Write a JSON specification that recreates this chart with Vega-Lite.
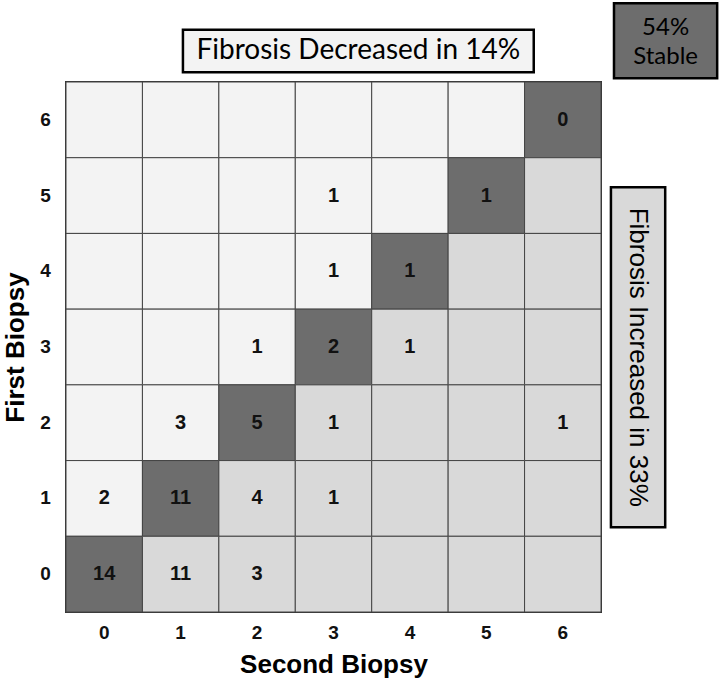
{
  "$schema": "https://vega.github.io/schema/vega-lite/v6.json",
  "autosize": {"type": "none"},
  "padding": {"left": 66, "top": 82, "right": 119, "bottom": 68},
  "width": 535,
  "height": 530,
  "background": "white",
  "view": {"stroke": "#333333", "strokeWidth": 2},
  "config": {"font": "Liberation Sans"},
  "resolve": {"scale": {"x": "independent", "y": "independent", "color": "independent"}},
  "layer": [
    {
      "data": {"values": [
        {"second": 0, "first": 6, "change": "Decreased", "count": null},
        {"second": 1, "first": 6, "change": "Decreased", "count": null},
        {"second": 2, "first": 6, "change": "Decreased", "count": null},
        {"second": 3, "first": 6, "change": "Decreased", "count": null},
        {"second": 4, "first": 6, "change": "Decreased", "count": null},
        {"second": 5, "first": 6, "change": "Decreased", "count": null},
        {"second": 6, "first": 6, "change": "Stable", "count": 0},
        {"second": 0, "first": 5, "change": "Decreased", "count": null},
        {"second": 1, "first": 5, "change": "Decreased", "count": null},
        {"second": 2, "first": 5, "change": "Decreased", "count": null},
        {"second": 3, "first": 5, "change": "Decreased", "count": 1},
        {"second": 4, "first": 5, "change": "Decreased", "count": null},
        {"second": 5, "first": 5, "change": "Stable", "count": 1},
        {"second": 6, "first": 5, "change": "Increased", "count": null},
        {"second": 0, "first": 4, "change": "Decreased", "count": null},
        {"second": 1, "first": 4, "change": "Decreased", "count": null},
        {"second": 2, "first": 4, "change": "Decreased", "count": null},
        {"second": 3, "first": 4, "change": "Decreased", "count": 1},
        {"second": 4, "first": 4, "change": "Stable", "count": 1},
        {"second": 5, "first": 4, "change": "Increased", "count": null},
        {"second": 6, "first": 4, "change": "Increased", "count": null},
        {"second": 0, "first": 3, "change": "Decreased", "count": null},
        {"second": 1, "first": 3, "change": "Decreased", "count": null},
        {"second": 2, "first": 3, "change": "Decreased", "count": 1},
        {"second": 3, "first": 3, "change": "Stable", "count": 2},
        {"second": 4, "first": 3, "change": "Increased", "count": 1},
        {"second": 5, "first": 3, "change": "Increased", "count": null},
        {"second": 6, "first": 3, "change": "Increased", "count": null},
        {"second": 0, "first": 2, "change": "Decreased", "count": null},
        {"second": 1, "first": 2, "change": "Decreased", "count": 3},
        {"second": 2, "first": 2, "change": "Stable", "count": 5},
        {"second": 3, "first": 2, "change": "Increased", "count": 1},
        {"second": 4, "first": 2, "change": "Increased", "count": null},
        {"second": 5, "first": 2, "change": "Increased", "count": null},
        {"second": 6, "first": 2, "change": "Increased", "count": 1},
        {"second": 0, "first": 1, "change": "Decreased", "count": 2},
        {"second": 1, "first": 1, "change": "Stable", "count": 11},
        {"second": 2, "first": 1, "change": "Increased", "count": 4},
        {"second": 3, "first": 1, "change": "Increased", "count": 1},
        {"second": 4, "first": 1, "change": "Increased", "count": null},
        {"second": 5, "first": 1, "change": "Increased", "count": null},
        {"second": 6, "first": 1, "change": "Increased", "count": null},
        {"second": 0, "first": 0, "change": "Stable", "count": 14},
        {"second": 1, "first": 0, "change": "Increased", "count": 11},
        {"second": 2, "first": 0, "change": "Increased", "count": 3},
        {"second": 3, "first": 0, "change": "Increased", "count": null},
        {"second": 4, "first": 0, "change": "Increased", "count": null},
        {"second": 5, "first": 0, "change": "Increased", "count": null},
        {"second": 6, "first": 0, "change": "Increased", "count": null}
      ]},
      "encoding": {
        "x": {
          "field": "second", "type": "ordinal",
          "scale": {"paddingInner": 0, "paddingOuter": 0},
          "axis": {
            "title": "Second Biopsy", "labelAngle": 0, "ticks": false, "domain": false,
            "labelFont": "Liberation Sans", "labelFontWeight": "bold", "labelFontSize": 19, "labelColor": "#111",
            "labelPadding": 11,
            "titleFont": "Liberation Sans", "titleFontWeight": "bold", "titleFontSize": 26, "titleColor": "#000",
            "titlePadding": 9
          }
        },
        "y": {
          "field": "first", "type": "ordinal", "sort": "descending",
          "scale": {"paddingInner": 0, "paddingOuter": 0},
          "axis": {
            "title": "First Biopsy", "ticks": false, "domain": false,
            "labelFont": "Liberation Sans", "labelFontWeight": "bold", "labelFontSize": 19, "labelColor": "#111",
            "labelPadding": 21, "labelAlign": "center", "labelBaseline": "middle",
            "titleFont": "Liberation Sans", "titleFontWeight": "bold", "titleFontSize": 26, "titleColor": "#000",
            "titlePadding": 11
          }
        }
      },
      "layer": [
        {
          "mark": {"type": "rect", "stroke": "#444444", "strokeWidth": 1},
          "encoding": {
            "color": {
              "field": "change", "type": "nominal",
              "scale": {"domain": ["Decreased", "Stable", "Increased"], "range": ["#f3f3f3", "#6d6d6d", "#d9d9d9"]},
              "legend": null
            }
          }
        },
        {
          "transform": [{"filter": "datum.count != null"}],
          "mark": {"type": "text", "font": "Liberation Sans", "fontWeight": "bold", "fontSize": 20, "color": "#111"},
          "encoding": {"text": {"field": "count", "type": "quantitative"}}
        }
      ]
    },
    {
      "data": {"values": [
        {"label": "Fibrosis Decreased in 14%", "group": "Decreased", "x": 1.53, "x2": 6.12, "y": 7.13, "y2": 7.69, "tx": 3.825, "ty": 7.41},
        {"label": "54%\nStable", "group": "Stable", "x": 7.17, "x2": 8.52, "y": 7.05, "y2": 8.04, "tx": 7.845, "ty": 7.71},
        {"label": "Fibrosis Increased in 33%", "group": "Increased", "x": 7.13, "x2": 7.84, "y": 1.12, "y2": 5.61, "tx": 7.485, "ty": 3.365}
      ]},
      "layer": [
        {
          "mark": {"type": "rect", "stroke": "#000000", "strokeWidth": 2.5},
          "encoding": {
            "x": {"field": "x", "type": "quantitative", "scale": {"domain": [0, 7], "nice": false, "zero": false}, "axis": null},
            "x2": {"field": "x2"},
            "y": {"field": "y", "type": "quantitative", "scale": {"domain": [0, 7], "nice": false, "zero": false}, "axis": null},
            "y2": {"field": "y2"},
            "color": {
              "field": "group", "type": "nominal",
              "scale": {"domain": ["Decreased", "Stable", "Increased"], "range": ["#f3f3f3", "#6d6d6d", "#d9d9d9"]},
              "legend": null
            }
          }
        },
        {
          "transform": [{"filter": "datum.group === 'Decreased'"}],
          "mark": {"type": "text", "font": "Lato", "fontSize": 28, "color": "#000"},
          "encoding": {
            "x": {"field": "tx", "type": "quantitative"},
            "y": {"field": "ty", "type": "quantitative"},
            "text": {"field": "label"}
          }
        },
        {
          "transform": [{"filter": "datum.group === 'Stable'"}],
          "mark": {"type": "text", "font": "Lato", "fontSize": 24, "color": "#000", "lineBreak": "\n", "lineHeight": 29},
          "encoding": {
            "x": {"field": "tx", "type": "quantitative"},
            "y": {"field": "ty", "type": "quantitative"},
            "text": {"field": "label"}
          }
        },
        {
          "transform": [{"filter": "datum.group === 'Increased'"}],
          "mark": {"type": "text", "font": "Liberation Sans", "fontSize": 26, "color": "#000", "angle": 90},
          "encoding": {
            "x": {"field": "tx", "type": "quantitative"},
            "y": {"field": "ty", "type": "quantitative"},
            "text": {"field": "label"}
          }
        }
      ]
    }
  ]
}
